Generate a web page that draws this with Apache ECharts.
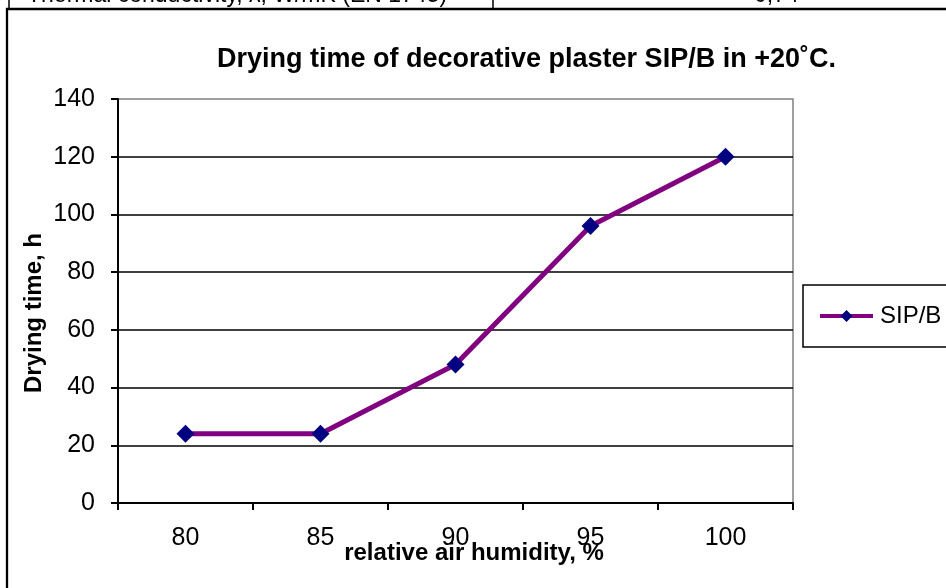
<!DOCTYPE html>
<html>
<head>
<meta charset="utf-8">
<script src="https://cdn.jsdelivr.net/npm/echarts@6/dist/echarts.min.js"></script>
<style>html,body{margin:0;padding:0;background:#fff}#c{width:946px;height:588px}</style>
</head>
<body>
<div id="c"></div>
<script>
var categories = ['80', '85', '90', '95', '100'];
var sipB = [24, 24, 48, 96, 120];
var seriesName = 'SIP/B';
var titleText = 'Drying time of decorative plaster SIP/B in +20\u02DAC.';
var xName = 'relative air humidity, %';
var yName = 'Drying time, h';
var headerLeft = 'Thermal conductivity, \u03BB, W/mK (EN 1745)';
var headerRight = '0,74';

var FONT = 'Liberation Sans, Arial, sans-serif';
var chart = echarts.init(document.getElementById('c'));
chart.setOption({
  animation: false,
  backgroundColor: '#fff',
  textStyle: { fontFamily: FONT, color: '#000' },
  title: {
    text: titleText,
    left: 217, top: 46,
    padding: 0,
    textStyle: { fontSize: 27, fontWeight: 'bold', color: '#000', fontFamily: FONT }
  },
  graphic: [
    { type: 'rect', shape: { x: 7, y: 9, width: 960, height: 600 }, style: { fill: 'none', stroke: '#000', lineWidth: 2.3 }, z: 0 },
    { type: 'line', shape: { x1: 9, y1: 0, x2: 9, y2: 9 }, style: { stroke: '#000', lineWidth: 1.5 } },
    { type: 'line', shape: { x1: 493, y1: 0, x2: 493, y2: 9 }, style: { stroke: '#000', lineWidth: 1.5 } },
    { type: 'text', x: 27, y: 7, style: { text: headerLeft, fontSize: 23, fill: '#000', fontFamily: FONT, verticalAlign: 'bottom' } },
    { type: 'text', x: 754, y: 7, style: { text: headerRight, fontSize: 23, fill: '#000', fontFamily: FONT, verticalAlign: 'bottom' } }
  ],
  legend: {
    data: [seriesName],
    left: 803, top: 285,
    orient: 'vertical',
    padding: [19, 40, 19, 15],
    itemWidth: 53, itemHeight: 15,
    itemGap: 0,
    borderColor: '#000', borderWidth: 1.5,
    backgroundColor: '#fff',
    lineStyle: { width: 4, color: '#800080' },
    textStyle: { fontSize: 24, color: '#000', fontFamily: FONT, padding: [0, 0, 0, 2] }
  },
  grid: {
    left: 118, right: 153, top: 99, bottom: 85,
    show: true, borderColor: '#808080', borderWidth: 1.5, backgroundColor: '#fff'
  },
  xAxis: {
    type: 'category',
    data: categories,
    boundaryGap: true,
    name: xName,
    nameLocation: 'middle',
    nameGap: 38,
    nameMoveOverlap: false,
    nameTextStyle: { fontSize: 24, fontWeight: 'bold', color: '#000', padding: [0, 0, 0, 37] },
    axisLine: { lineStyle: { color: '#000', width: 2 } },
    axisTick: { show: true, inside: false, length: 7, interval: 0, alignWithLabel: false, lineStyle: { color: '#000', width: 2 } },
    axisLabel: { fontSize: 25, color: '#000', margin: 23, interval: 0 },
    splitLine: { show: false }
  },
  yAxis: {
    type: 'value',
    min: 0, max: 140, interval: 20,
    name: yName,
    nameLocation: 'middle',
    nameGap: 72,
    nameMoveOverlap: false,
    nameTextStyle: { fontSize: 24, fontWeight: 'bold', color: '#000', padding: [0, 24, 0, 0] },
    axisLine: { show: true, lineStyle: { color: '#000', width: 2 } },
    axisTick: { show: true, inside: false, length: 7, lineStyle: { color: '#000', width: 2 } },
    axisLabel: { fontSize: 25, color: '#000', margin: 23 },
    splitLine: { show: true, showMinLine: false, showMaxLine: false, lineStyle: { color: '#000', width: 1.5 } }
  },
  series: [{
    name: seriesName,
    type: 'line',
    data: sipB,
    symbol: 'diamond',
    symbolSize: [18, 18],
    itemStyle: { color: '#000080' },
    lineStyle: { color: '#800080', width: 5 },
    z: 5
  }]
});
</script>
</body>
</html>
